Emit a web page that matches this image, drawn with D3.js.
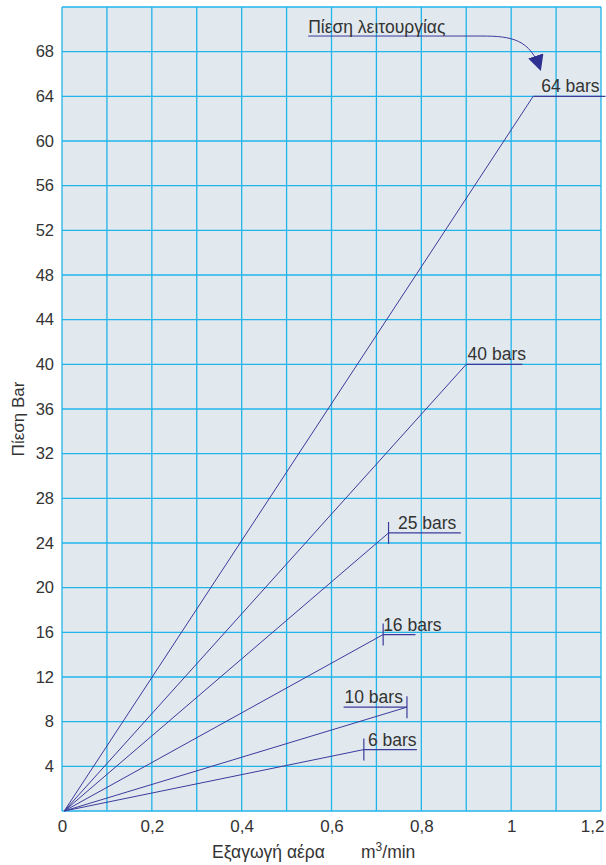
<!DOCTYPE html>
<html>
<head>
<meta charset="utf-8">
<script src="https://cdn.jsdelivr.net/npm/d3@7"></script>
<style>
  body { margin: 0; background: #fff; }
  svg { display: block; font-family: "Liberation Sans", Arial, sans-serif; }
</style>
</head>
<body>
<svg id="svg" width="606" height="865"></svg>
<script>
// curves: end point of each pressure line
var curveLabels = ["64 bars", "40 bars", "25 bars", "16 bars", "10 bars", "6 bars"];
var endFlow = [1.049, 0.90, 0.727, 0.715, 0.768, 0.672];
var endPress = [64, 40, 24.9, 15.8, 9.3, 5.5];
// leader line under each label (flow from, flow to)
var leaderFrom = [1.049, 0.90, 0.727, 0.715, 0.627, 0.672];
var leaderTo = [1.21, 1.025, 0.888, 0.787, 0.768, 0.79];
var hasTick = [false, false, true, true, true, true];
var labelFlow = [1.067, 0.903, 0.748, 0.715, 0.629, 0.681];

var xTicks = [0, 0.2, 0.4, 0.6, 0.8, 1, 1.2];
var yTicks = [4, 8, 12, 16, 20, 24, 28, 32, 36, 40, 44, 48, 52, 56, 60, 64, 68];

var svg = d3.select("#svg");
var padding = {top: 7, right: 5, bottom: 54, left: 62};
var chartArea = {
  width: 606 - padding.left - padding.right,
  height: 865 - padding.top - padding.bottom
};

var xScale = d3.scaleLinear().domain([0, 1.2]).range([0, chartArea.width]);
var yScale = d3.scaleLinear().domain([0, 72]).range([chartArea.height, 0]);

var g = svg.append("g")
  .attr("transform", "translate(" + padding.left + "," + padding.top + ")");

g.append("rect")
  .attr("width", chartArea.width)
  .attr("height", chartArea.height)
  .attr("fill", "#e1e9ef");

// grid
var gridColor = "#1fb4ea";
g.selectAll(".vgrid").data(d3.range(0, 13)).enter()
  .append("line")
  .attr("x1", function(d) { return xScale(d / 10); })
  .attr("x2", function(d) { return xScale(d / 10); })
  .attr("y1", 0).attr("y2", chartArea.height)
  .attr("stroke", gridColor).attr("stroke-width", 1.3);
g.selectAll(".hgrid").data(d3.range(0, 19)).enter()
  .append("line")
  .attr("y1", function(d) { return yScale(d * 4); })
  .attr("y2", function(d) { return yScale(d * 4); })
  .attr("x1", 0).attr("x2", chartArea.width)
  .attr("stroke", gridColor).attr("stroke-width", 1.3);

// axes labels
var xAxis = g.append("g")
  .attr("transform", "translate(0," + chartArea.height + ")")
  .call(d3.axisBottom(xScale).tickValues(xTicks).tickSize(0).tickPadding(9)
    .tickFormat(function(d) { return String(d).replace(".", ","); }));
xAxis.select(".domain").remove();
xAxis.selectAll("text").attr("font-size", 17).attr("fill", "#333")
  .attr("font-family", "Liberation Sans, Arial, sans-serif");
xAxis.selectAll(".tick").filter(function(d) { return d === 1.2; })
  .select("text").attr("text-anchor", "end").attr("dx", 3);

var yAxis = g.append("g")
  .call(d3.axisLeft(yScale).tickValues(yTicks).tickSize(0).tickPadding(8));
yAxis.select(".domain").remove();
yAxis.selectAll("text").attr("font-size", 16.5).attr("fill", "#333")
  .attr("font-family", "Liberation Sans, Arial, sans-serif");

// lines
var lineColor = "#3b3b9b";
var curves = curveLabels.map(function(l, i) {
  return {label: l, fx: endFlow[i], fy: endPress[i], lf: leaderFrom[i], lt: leaderTo[i], tick: hasTick[i], lx: labelFlow[i]};
});
var lineFn = d3.line().x(function(d) { return xScale(d[0]); }).y(function(d) { return yScale(d[1]); });

g.selectAll(".curve").data(curves).enter()
  .append("path")
  .attr("d", function(d) { return lineFn([[0.005, 0], [d.fx, d.fy]]); })
  .attr("fill", "none").attr("stroke", lineColor).attr("stroke-width", 1);

g.selectAll(".leader").data(curves).enter()
  .append("line")
  .attr("x1", function(d) { return xScale(d.lf); })
  .attr("x2", function(d) { return xScale(d.lt); })
  .attr("y1", function(d) { return yScale(d.fy); })
  .attr("y2", function(d) { return yScale(d.fy); })
  .attr("stroke", lineColor).attr("stroke-width", 1.2);

g.selectAll(".vtick").data(curves.filter(function(d) { return d.tick; })).enter()
  .append("line")
  .attr("x1", function(d) { return xScale(d.fx); })
  .attr("x2", function(d) { return xScale(d.fx); })
  .attr("y1", function(d) { return yScale(d.fy) - 11; })
  .attr("y2", function(d) { return yScale(d.fy) + 11; })
  .attr("stroke", lineColor).attr("stroke-width", 1.2);

g.selectAll(".clabel").data(curves).enter()
  .append("text")
  .attr("x", function(d) { return xScale(d.lx); })
  .attr("y", function(d) { return yScale(d.fy) - 4; })
  .attr("font-size", 17.5).attr("fill", "#333")
  .text(function(d) { return d.label; });

// annotation
var annStart = [0.548, 69.4], annBend = [0.935, 69.4], annTip = [1.065, 66.4];
svg.append("defs").append("marker")
  .attr("id", "arrow").attr("viewBox", "0 0 10 10")
  .attr("refX", 9).attr("refY", 5)
  .attr("markerWidth", 16).attr("markerHeight", 16)
  .attr("markerUnits", "userSpaceOnUse")
  .attr("orient", "auto")
  .append("path").attr("d", "M0,0 L10,5 L0,10 Z").attr("fill", "#2e3192");

g.append("path")
  .attr("d", "M" + xScale(annStart[0]) + "," + yScale(annStart[1]) +
    " L" + xScale(annBend[0]) + "," + yScale(annBend[1]) +
    " C" + (xScale(annBend[0]) + 30) + "," + yScale(annBend[1]) +
    " " + (xScale(annTip[0]) - 10) + "," + (yScale(annTip[1]) - 30) +
    " " + xScale(annTip[0]) + "," + yScale(annTip[1]))
  .attr("fill", "none").attr("stroke", "#3b3b9b").attr("stroke-width", 1)
  .attr("marker-end", "url(#arrow)");
g.append("text")
  .attr("x", xScale(annStart[0])).attr("y", yScale(annStart[1]) - 3)
  .attr("font-size", 17.5).attr("fill", "#333")
  .text("Πίεση λειτουργίας");

// axis titles
svg.append("text")
  .attr("transform", "translate(24," + (padding.top + chartArea.height / 2 + 10) + ") rotate(-90)")
  .attr("text-anchor", "middle")
  .attr("font-size", 17).attr("fill", "#333")
  .text("Πίεση Bar");

var xt = svg.append("text").attr("y", 858).attr("font-size", 17.5).attr("fill", "#333");
xt.append("tspan").attr("x", 212).text("Εξαγωγή αέρα");
xt.append("tspan").attr("x", 361).text("m");
xt.append("tspan").attr("font-size", 12).attr("dy", -7).text("3");
xt.append("tspan").attr("dy", 7).text("/min");
</script>
</body>
</html>
